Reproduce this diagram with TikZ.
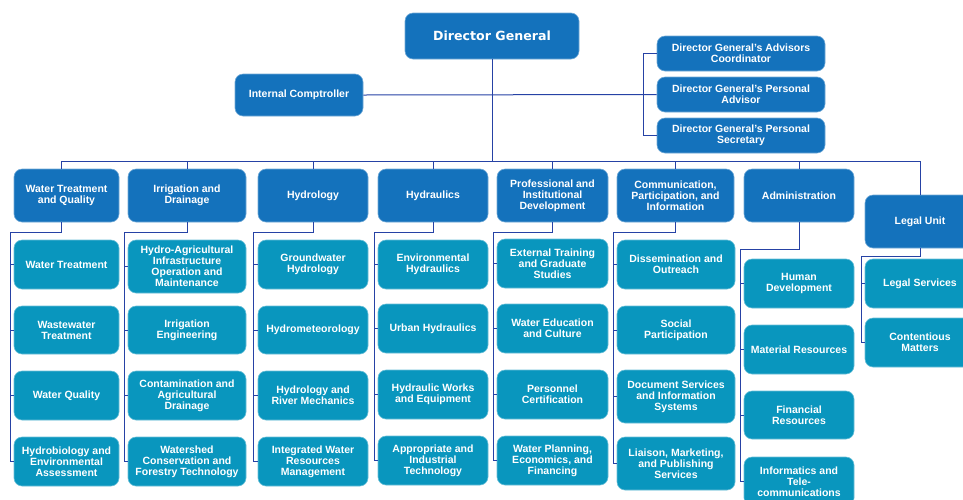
\documentclass[tikz,border=0pt]{standalone}
\usepackage{fontspec}
\setmainfont{Liberation Sans}
\newfontfamily\dgfont{DejaVu Sans}
\definecolor{headblue}{RGB}{20,114,188}
\definecolor{childblue}{RGB}{9,150,190}
\definecolor{linkblue}{RGB}{38,66,165}
\tikzset{
  basebox/.style={rounded corners=8pt, text=white, align=center, inner sep=1pt,
    font=\bfseries\fontsize{10.5}{11}\selectfont, line width=0.6pt},
  headbox/.style={basebox, fill=headblue, draw=headblue!60!white},
  childbox/.style={basebox, fill=childblue, draw=childblue!60!white},
  link/.style={draw=linkblue, line width=1pt},
}
\newcommand{\hbx}[6]{\node[headbox, minimum width=#4, minimum height=#5] (#1) at (#2,#3) {#6};}
\newcommand{\cbx}[6]{\node[childbox, minimum width=#4, minimum height=#5] (#1) at (#2,#3) {#6};}
\begin{document}
\begin{tikzpicture}[x=1pt,y=-1pt]
\clip (0,0) rectangle (963,499);
\fill[white] (0,0) rectangle (963,499);
% top
\node[headbox, minimum width=174, minimum height=46, font=\dgfont\bfseries\fontsize{12.6}{14}\selectfont] (dg) at (492,36) {Director General};
\hbx{ic}{299}{95}{128}{42}{Internal Comptroller}
\hbx{adv1}{741}{53.5}{168}{35}{Director General's Advisors\\Coordinator}
\hbx{adv2}{741}{94.5}{168}{35}{Director General's Personal\\Advisor}
\hbx{adv3}{741}{135.5}{168}{35}{Director General's Personal\\Secretary}
% heads
\hbx{h1}{66.5}{195.5}{105}{53}{Water Treatment\\and Quality}
\hbx{h2}{187}{195.5}{118}{53}{Irrigation and\\Drainage}
\hbx{h3}{313}{195.5}{110}{53}{Hydrology}
\hbx{h4}{433}{195.5}{110}{53}{Hydraulics}
\hbx{h5}{552.5}{195.5}{111}{53}{Professional and\\Institutional\\Development}
\hbx{h6}{675.5}{195.5}{117}{53}{Communication,\\Participation, and\\Information}
\hbx{h7}{799}{195.5}{110}{53}{Administration}
\hbx{h8}{920}{221.5}{110}{53}{Legal Unit}
% column 1
\cbx{c11}{66.5}{264.5}{105}{49}{Water Treatment}
\cbx{c12}{66.5}{330}{105}{48}{Wastewater\\Treatment}
\cbx{c13}{66.5}{395.5}{105}{49}{Water Quality}
\cbx{c14}{66.5}{461.5}{105}{49}{Hydrobiology and\\Environmental\\Assessment}
% column 2
\cbx{c21}{187}{266.5}{118}{53}{Hydro-Agricultural\\Infrastructure\\Operation and\\Maintenance}
\cbx{c22}{187}{330}{118}{48}{Irrigation\\Engineering}
\cbx{c23}{187}{395.5}{118}{49}{Contamination and\\Agricultural\\Drainage}
\cbx{c24}{187}{461.5}{118}{49}{Watershed\\Conservation and\\Forestry Technology}
% column 3
\cbx{c31}{313}{264.5}{110}{49}{Groundwater\\Hydrology}
\cbx{c32}{313}{330}{110}{48}{Hydrometeorology}
\cbx{c33}{313}{395.5}{110}{49}{Hydrology and\\River Mechanics}
\cbx{c34}{313}{461.5}{110}{49}{Integrated Water\\Resources\\Management}
% column 4
\cbx{c41}{433}{264.5}{110}{49}{Environmental\\Hydraulics}
\cbx{c42}{433}{328.5}{110}{49}{Urban Hydraulics}
\cbx{c43}{433}{394.5}{110}{49}{Hydraulic Works\\and Equipment}
\cbx{c44}{433}{460.5}{110}{49}{Appropriate and\\Industrial\\Technology}
% column 5
\cbx{c51}{552.5}{263.5}{111}{49}{External Training\\and Graduate\\Studies}
\cbx{c52}{552.5}{328.5}{111}{49}{Water Education\\and Culture}
\cbx{c53}{552.5}{394.5}{111}{49}{Personnel\\Certification}
\cbx{c54}{552.5}{460.5}{111}{49}{Water Planning,\\Economics, and\\Financing}
% column 6
\cbx{c61}{676}{264.5}{118}{49}{Dissemination and\\Outreach}
\cbx{c62}{676}{330}{118}{48}{Social\\Participation}
\cbx{c63}{676}{396.5}{118}{53}{Document Services\\and Information\\Systems}
\cbx{c64}{676}{463.5}{118}{53}{Liaison, Marketing,\\and Publishing\\Services}
% column 7
\cbx{c71}{799}{283.5}{110}{49}{Human\\Development}
\cbx{c72}{799}{349.5}{110}{49}{Material Resources}
\cbx{c73}{799}{415}{110}{48}{Financial\\Resources}
\cbx{c74}{799}{481.5}{110}{49}{Informatics and\\Tele-\\communications}
% legal
\cbx{c81}{920}{283.5}{110}{49}{Legal Services}
\cbx{c82}{920}{342.5}{110}{49}{Contentious\\Matters}
% anchors where the connectors meet the heads
\coordinate (t1) at ([xshift=-5.5pt]h1.north);
\coordinate (b1) at ([xshift=-5.5pt]h1.south);
\foreach \i in {2,...,8}{\coordinate (t\i) at (h\i.north); \coordinate (b\i) at (h\i.south);}
% connectors top
\coordinate (bus) at (0,161);
\draw[link] (dg.south) -- (dg.south |- bus);
\draw[link] (t1) -- (t1 |- bus) -- (t8 |- bus) -- (t8);
\foreach \i in {2,...,7}{\draw[link] (t\i |- bus) -- (t\i);}
\draw[link] (ic.east) -- (adv2.west);
\coordinate (br) at (643,0);
\draw[link] (adv1.west) -| (br |- adv1.west) |- (adv3.west);
% column connectors
\newcommand{\colconn}[5]{%
  \coordinate (v#1) at (#2,#3);
  \draw[link] (b#1) |- (v#1) |- (c#1#4.west);
  \foreach \k in {#5}{\draw[link] (v#1 |- c#1\k.west) -- (c#1\k.west);}
}
\colconn{1}{10}{232}{4}{1,2,3}
\colconn{2}{124}{232}{4}{1,2,3}
\colconn{3}{253}{232}{4}{1,2,3}
\colconn{4}{374}{232}{4}{1,2,3}
\colconn{5}{493}{232}{4}{1,2,3}
\colconn{6}{613}{232}{4}{1,2,3}
\colconn{7}{740}{249}{4}{1,2,3}
\colconn{8}{861}{256}{2}{1}
\end{tikzpicture}
\end{document}
